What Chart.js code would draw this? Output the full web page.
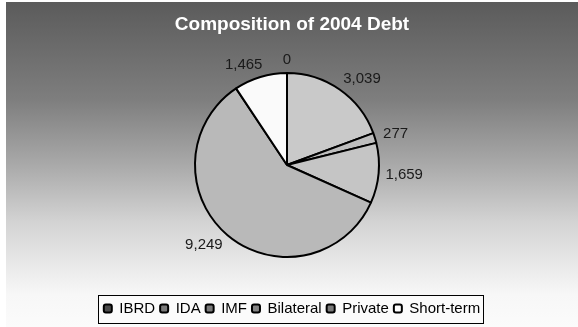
<!DOCTYPE html>
<html>
<head>
<meta charset="utf-8">
<script src="https://cdn.jsdelivr.net/npm/chart.js@4.4.1/dist/chart.umd.min.js"></script>
<style>
  html, body { margin: 0; padding: 0; background: #fff; }
  #wrap { position: relative; width: 578px; height: 327px; }
</style>
</head>
<body>
<div id="wrap"><canvas id="c" width="578" height="327"></canvas></div>
<script>
const categories = ["IBRD", "IDA", "IMF", "Bilateral", "Private", "Short-term"];
const debtValues = [0, 3039, 277, 1659, 9249, 1465];
const sliceColors = ["#5a5a5a", "#c9c9c9", "#bebebe", "#c5c5c5", "#b9b9b9", "#fafafa"];
const swatchColors = ["#4a4a4a", "#7a7a7a", "#7a7a7a", "#858585", "#7a7a7a", "#ffffff"];
const chartTitle = "Composition of 2004 Debt";

const FONT = "'Liberation Sans', Arial, sans-serif";
const PIE_SHIFT = -5; // pie sits a little left of the title centre

// gray gradient panel behind everything
const backdrop = {
  id: "backdrop",
  beforeDraw(chart) {
    const { ctx, width, height } = chart;
    ctx.save();
    ctx.fillStyle = "#ffffff";
    ctx.fillRect(0, 0, width, height);
    const g = ctx.createLinearGradient(0, 2, 0, height);
    g.addColorStop(0, "#5b5b5b");
    g.addColorStop(0.3, "#7e7e7e");
    g.addColorStop(0.5, "#a9a9a9");
    g.addColorStop(0.68, "#d4d4d4");
    g.addColorStop(0.9, "#f7f7f7");
    g.addColorStop(1, "#fbfbfb");
    ctx.fillStyle = g;
    ctx.fillRect(6, 2, width - 6, height - 2);
    ctx.restore();
  }
};

const pieShift = {
  id: "pieShift",
  beforeDatasetsDraw(chart) {
    chart.ctx.save();
    chart.ctx.translate(PIE_SHIFT, 0);
  },
  afterDatasetsDraw(chart) {
    chart.ctx.restore();
  }
};

// value labels outside each slice
const sliceLabels = {
  id: "sliceLabels",
  afterDatasetsDraw(chart) {
    const { ctx } = chart;
    const meta = chart.getDatasetMeta(0);
    ctx.save();
    ctx.font = "15px " + FONT;
    ctx.fillStyle = "#1a1a1a";
    ctx.textAlign = "center";
    ctx.textBaseline = "middle";
    meta.data.forEach((arc, i) => {
      const { x, y, startAngle, endAngle, outerRadius } = arc.getProps(
        ["x", "y", "startAngle", "endAngle", "outerRadius"], true);
      const mid = (startAngle + endAngle) / 2;
      const cos = Math.cos(mid), sin = Math.sin(mid);
      const txt = debtValues[i].toLocaleString("en-US");
      const w = ctx.measureText(txt).width;
      const h = 14;
      const r = outerRadius + 6;
      // push labels sideways a bit more the closer they sit to the top/bottom
      const side = Math.abs(cos) < 0.01 ? 0 : Math.sign(cos) * 10 * Math.abs(sin);
      const px = x + PIE_SHIFT + cos * r + side;
      const py = y + sin * r;
      ctx.fillText(txt, px + cos * w / 2, py + sin * h / 2);
    });
    ctx.restore();
  }
};

// box around the legend
const legendFrame = {
  id: "legendFrame",
  beforeDraw(chart) {
    const boxes = chart.legend && chart.legend.legendHitBoxes;
    if (!boxes || !boxes.length) return;
    let left = Infinity, right = -Infinity, top = Infinity, bottom = -Infinity;
    boxes.forEach(b => {
      left = Math.min(left, b.left);
      right = Math.max(right, b.left + b.width);
      top = Math.min(top, b.top);
      bottom = Math.max(bottom, b.top + b.height);
    });
    const cy = (top + bottom) / 2;
    const ctx = chart.ctx;
    ctx.save();
    ctx.fillStyle = "#fbfbfb";
    ctx.strokeStyle = "#000";
    ctx.lineWidth = 1;
    const x0 = Math.round(left - 6) + 0.5, y0 = Math.round(cy - 14) + 0.5;
    const x1 = Math.round(right + 3) + 0.5, y1 = Math.round(cy + 14) + 0.5;
    ctx.fillRect(x0, y0, x1 - x0, y1 - y0);
    ctx.strokeRect(x0, y0, x1 - x0, y1 - y0);
    ctx.restore();
  }
};

new Chart(document.getElementById("c"), {
  type: "pie",
  data: {
    labels: categories,
    datasets: [{
      data: debtValues,
      backgroundColor: sliceColors,
      borderColor: "#000",
      borderWidth: 2,
      radius: 92
    }]
  },
  options: {
    responsive: false,
    animation: false,
    events: [],
    layout: { padding: { left: 6, right: 0, top: 0, bottom: 1 } },
    plugins: {
      title: {
        display: true,
        text: chartTitle,
        color: "#ffffff",
        font: { family: FONT, size: 19, weight: "bold", lineHeight: 1 },
        padding: { top: 15, bottom: 0 }
      },
      legend: {
        position: "bottom",
        labels: {
          color: "#000",
          font: { family: FONT, size: 15 },
          boxWidth: 8,
          boxHeight: 8,
          padding: 5,
          useBorderRadius: true,
          borderRadius: 2,
          generateLabels(chart) {
            return categories.map((name, i) => ({
              text: name,
              fillStyle: swatchColors[i],
              strokeStyle: "#000",
              lineWidth: 2,
              borderRadius: 2,
              index: i,
              hidden: false
            }));
          }
        }
      },
      tooltip: { enabled: false }
    }
  },
  plugins: [backdrop, legendFrame, pieShift, sliceLabels]
});
</script>
</body>
</html>
